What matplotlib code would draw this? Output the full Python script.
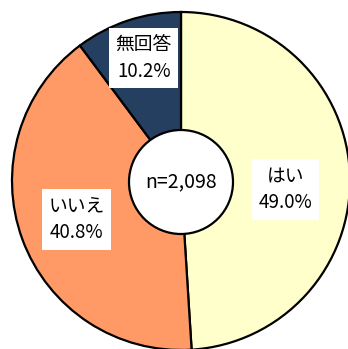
import numpy as np
import matplotlib.pyplot as plt

plt.rcParams['font.family'] = ['Noto Sans CJK JP', 'DejaVu Sans']

labels = ['はい', 'いいえ', '無回答']
shares = [49.0, 40.8, 10.2]
colors = ['#FFFFCC', '#FF9966', '#243F60']
total_n = '2,098'

fig = plt.figure(figsize=(3.48, 3.49), dpi=100)
ax = fig.add_axes([0, 0, 1, 1])

cx, cy, R = 181, 168, 169
wedges, _ = ax.pie(shares, colors=colors, startangle=90, counterclock=False,
                   center=(cx, cy), radius=R, frame=True,
                   wedgeprops=dict(edgecolor='black', linewidth=1.6))
ax.set_xlim(0, 348)
ax.set_ylim(0, 349)
ax.set_aspect('equal')
ax.axis('off')

# hole in the middle with the sample size
ax.add_patch(plt.Circle((cx, cy - 1), 52, facecolor='white', edgecolor='black', linewidth=1.6, zorder=3))
ax.text(cx, cy - 1, 'n=' + total_n, ha='center', va='center', fontsize=14, zorder=4)

# label boxes near the middle angle of each wedge
dists = [0.62, 0.66, 0.76]
nudge = [-6.5, 0.0, -1.5]
for w, lab, v, d, t in zip(wedges, labels, shares, dists, nudge):
    ang = np.deg2rad((w.theta1 + w.theta2) / 2 + t)
    x = cx + R * d * np.cos(ang)
    y = cy + R * d * np.sin(ang)
    ax.text(x, y, f'{lab}\n{v:.1f}%', ha='center', va='center', fontsize=13.5,
            linespacing=1.35, zorder=4,
            bbox=dict(boxstyle='square,pad=0.35', facecolor='white', edgecolor='none'))

fig.savefig('out.png', dpi=100)
